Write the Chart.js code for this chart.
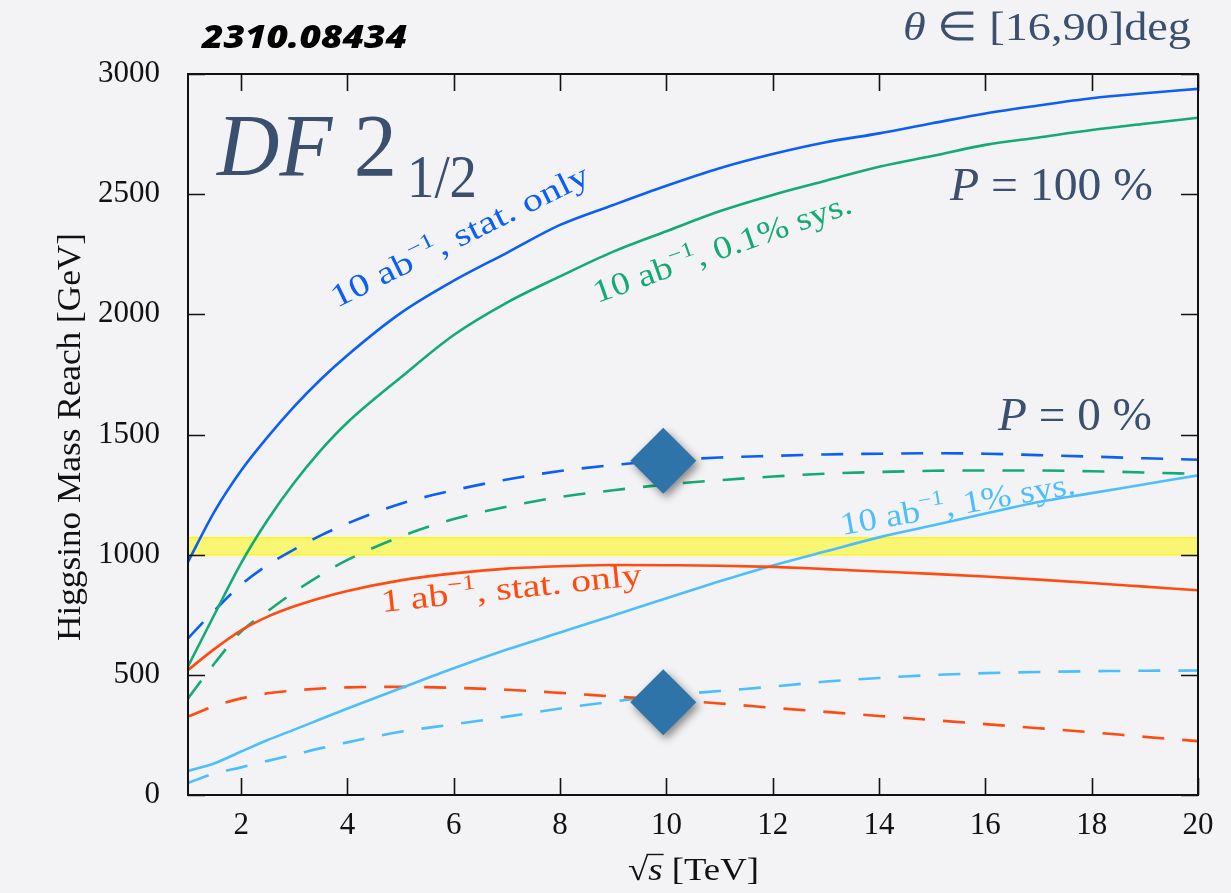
<!DOCTYPE html>
<html>
<head>
<meta charset="utf-8">
<script src="https://cdn.jsdelivr.net/npm/chart.js@4.4.1/dist/chart.umd.min.js"></script>
<style>
  html, body { margin: 0; padding: 0; background: #f3f3f5; }
  canvas { display: block; }
</style>
</head>
<body>
<canvas id="reach" width="1231" height="893"></canvas>
<script>
// Collider energy grid (TeV) shared by every curve
const sqrtS = [1, 1.5, 2, 2.5, 3, 3.5, 4, 5, 6, 7, 8, 9, 10, 11, 12, 13, 14, 15, 16, 17, 18, 19, 20];

// Higgsino mass reach (GeV), polarisation P = 100 % (solid)
const statOnly10_P100 = [970, 1180, 1350, 1490, 1617, 1730, 1830, 2005, 2140, 2256, 2372, 2455, 2535, 2608, 2667, 2716, 2753, 2795, 2836, 2869, 2899, 2920, 2938];
const sys01_10_P100   = [535, 752, 965, 1145, 1300, 1435, 1550, 1737, 1914, 2049, 2158, 2261, 2346, 2429, 2497, 2556, 2614, 2659, 2705, 2736, 2767, 2793, 2818];
const statOnly1_P100  = [520, 608, 685, 742, 785, 820, 849, 893, 922, 942, 952, 957, 956, 954, 949, 940, 930, 920, 909, 896, 882, 867, 852];
const sys1_10_P100    = [100, 132, 181, 229, 272, 316, 360, 444, 527, 605, 676, 747, 819, 889, 955, 1014, 1072, 1121, 1171, 1219, 1256, 1293, 1330];

// Higgsino mass reach (GeV), polarisation P = 0 % (dashed)
const statOnly10_P0 = [652, 768, 875, 957, 1022, 1080, 1130, 1212, 1268, 1313, 1348, 1373, 1392, 1404, 1411, 1417, 1420, 1422, 1420, 1414, 1408, 1401, 1395];
const sys01_10_P0   = [402, 548, 680, 765, 845, 916, 978, 1075, 1148, 1200, 1240, 1268, 1292, 1310, 1325, 1337, 1344, 1349, 1350, 1350, 1347, 1342, 1336];
const statOnly1_P0  = [326, 370, 402, 423, 435, 443, 448, 450, 446, 438, 425, 410, 396, 381, 363, 346, 329, 312, 295, 278, 261, 242, 224];
const sys1_10_P0    = [50, 90, 115, 142, 168, 195, 219, 263, 294, 326, 360, 389, 414, 433, 451, 472, 487, 499, 507, 512, 515, 517, 518];

// Thermal higgsino mass band (GeV)
const bandLow = 1000;
const bandHigh = 1070;

// Highlighted 10 TeV benchmark points
const benchX = [9.94, 9.94];
const benchY = [1391, 386];

// Axis ticks
const xTickValues = [2, 4, 6, 8, 10, 12, 14, 16, 18, 20];
const yTickValues = [0, 500, 1000, 1500, 2000, 2500, 3000];

const BLUE = '#0b5ef6';
const GREEN = '#14aa74';
const RED = '#ff4b0f';
const SKY = '#4dbefc';
const SLATE = '#3b4f6e';
const SERIF = '"Liberation Serif", "Times New Roman", serif';

const pts = ys => sqrtS.map((x, i) => ({ x, y: ys[i] }));
const DASH = [22, 18];

function curve(values, color, dashed) {
  return {
    data: pts(values),
    borderColor: color,
    borderWidth: 2.6,
    borderDash: dashed ? DASH : [],
    pointRadius: 0,
    fill: false,
    cubicInterpolationMode: 'monotone',
    order: 1
  };
}

// Rich text helper: runs of text, optional italic / superscript, stretched to a width
function drawRuns(ctx, runs, x, y, o) {
  ctx.save();
  let total = 0;
  const m = runs.map(r => {
    const fs = o.size * (r.scale || 1);
    const font = (r.italic ? 'italic ' : '') + (o.weight || '') + ' ' + fs + 'px ' + (o.family || SERIF);
    ctx.font = font;
    const w = ctx.measureText(r.t).width;
    const start = total;
    total += w;
    return { r, font, w, start };
  });
  const sx = o.width ? o.width / total : 1;
  ctx.translate(x, y);
  ctx.rotate((o.angle || 0) * Math.PI / 180);
  ctx.scale(sx, 1);
  ctx.fillStyle = o.color;
  ctx.textAlign = 'left';
  ctx.textBaseline = 'alphabetic';
  m.forEach(it => {
    ctx.font = it.font;
    ctx.fillText(it.r.t, it.start, -(it.r.dy || 0) * o.size);
  });
  if (o.after) o.after(ctx, m);
  ctx.restore();
}

const abRuns = (lumi, tail) => [
  { t: lumi + ' ab' },
  { t: '\u22121', scale: 0.66, dy: 0.42 },
  { t: tail }
];

// Curve labels anchored in data space (baseline start), with slope and run length
const curveNotes = [
  { runs: abRuns('10', ', stat. only'), x: 3.80, y: 2026, angle: -26.3, width: 284, color: BLUE },
  { runs: abRuns('10', ', 0.1% sys.'), x: 8.70, y: 2047, angle: -19.5, width: 272, color: GREEN },
  { runs: abRuns('1', ', stat. only'), x: 4.65, y: 761, angle: -6.0, width: 262, color: RED },
  { runs: abRuns('10', ', 1% sys.'), x: 13.31, y: 1082, angle: -10.0, width: 238, color: SKY }
];

const framePlugin = {
  id: 'frameAndText',
  beforeDatasetDraw(chart, args) {
    if (chart.data.datasets[args.index].shadow) {
      const c = chart.ctx;
      c.save();
      c.shadowColor = 'rgba(0,0,0,0.45)';
      c.shadowBlur = 9;
      c.shadowOffsetX = 3;
      c.shadowOffsetY = 4;
    }
  },
  afterDatasetDraw(chart, args) {
    if (chart.data.datasets[args.index].shadow) chart.ctx.restore();
  },
  afterDraw(chart) {
    const ctx = chart.ctx;
    const a = chart.chartArea;
    const xs = chart.scales.x, ys = chart.scales.y;

    // inward ticks on all four sides
    ctx.save();
    ctx.strokeStyle = '#111';
    ctx.lineWidth = 1.6;
    const TL = 17;
    ctx.beginPath();
    xs.ticks.forEach(t => {
      const p = Math.round(xs.getPixelForValue(t.value)) + 0.5;
      ctx.moveTo(p, a.bottom); ctx.lineTo(p, a.bottom - TL);
      ctx.moveTo(p, a.top); ctx.lineTo(p, a.top + TL);
    });
    ys.ticks.forEach(t => {
      const p = Math.round(ys.getPixelForValue(t.value)) + 0.5;
      ctx.moveTo(a.left, p); ctx.lineTo(a.left + TL, p);
      ctx.moveTo(a.right, p); ctx.lineTo(a.right - TL, p);
    });
    ctx.stroke();
    ctx.lineWidth = 2;
    ctx.strokeRect(a.left, a.top, a.right - a.left, a.bottom - a.top);
    ctx.restore();

    // curve labels
    curveNotes.forEach(n => {
      drawRuns(ctx, n.runs, xs.getPixelForValue(n.x), ys.getPixelForValue(n.y),
        { size: 32, color: n.color, angle: n.angle, width: n.width });
    });

    // model name
    drawRuns(ctx, [{ t: 'DF', italic: true }, { t: ' 2' }], 217, 175,
      { size: 88, color: SLATE, width: 180 });
    drawRuns(ctx, [{ t: '1/2' }], 407, 197, { size: 62, color: SLATE, width: 70 });

    // polarisation tags
    drawRuns(ctx, [{ t: 'P', italic: true }, { t: ' = 100 %' }], 950, 200,
      { size: 46, color: SLATE, width: 203 });
    drawRuns(ctx, [{ t: 'P', italic: true }, { t: ' = 0 %' }], 998, 430,
      { size: 46, color: SLATE, width: 154 });

    // angular acceptance
    drawRuns(ctx, [{ t: '\u03B8', italic: true }, { t: ' \u2208 [16,90]deg' }], 903, 40,
      { size: 40, color: SLATE, width: 288 });

    // arXiv reference
    drawRuns(ctx, [{ t: '2310.08434', italic: true }], 202, 48,
      { size: 31, color: '#000', width: 205, weight: '800', family: '"Open Sans", "Lato", sans-serif' });

    // axis titles
    ctx.save();
    ctx.translate(80, 641);
    ctx.rotate(-Math.PI / 2);
    drawRuns(ctx, [{ t: 'Higgsino Mass Reach [GeV]' }], 0, 0, { size: 34, color: '#111', width: 408 });
    ctx.restore();

    drawRuns(ctx, [{ t: '\u221A' }, { t: 's', italic: true }, { t: ' [TeV]' }], 628, 880,
      { size: 32, color: '#111', width: 131,
        after(c, m) {
          c.strokeStyle = '#111';
          c.lineWidth = 1.4;
          c.beginPath();
          c.moveTo(m[0].start + m[0].w * 0.92, -25.5);
          c.lineTo(m[1].start + m[1].w + 1, -25.5);
          c.stroke();
        } });
  }
};

new Chart(document.getElementById('reach'), {
  type: 'line',
  data: {
    datasets: [
      {
        label: 'benchmarks',
        data: benchX.map((x, i) => ({ x, y: benchY[i] })),
        showLine: false,
        pointStyle: 'rectRot',
        pointRadius: 33,
        pointHoverRadius: 33,
        pointBackgroundColor: '#2f74a8',
        pointBorderWidth: 0,
        shadow: true,
        order: 0
      },
      curve(statOnly10_P100, BLUE, false),
      curve(sys01_10_P100, GREEN, false),
      curve(statOnly1_P100, RED, false),
      curve(sys1_10_P100, SKY, false),
      curve(statOnly10_P0, BLUE, true),
      curve(sys01_10_P0, GREEN, true),
      curve(statOnly1_P0, RED, true),
      curve(sys1_10_P0, SKY, true),
      {
        label: 'band',
        data: [{ x: 1, y: bandHigh }, { x: 20, y: bandHigh }],
        borderColor: 'rgba(255,246,0,0.9)',
        borderWidth: 1.5,
        backgroundColor: 'rgba(255,250,0,0.52)',
        fill: { value: bandLow },
        pointRadius: 0,
        order: 2
      },
      {
        label: 'band-edge',
        data: [{ x: 1, y: bandLow }, { x: 20, y: bandLow }],
        borderColor: 'rgba(255,246,0,0.9)',
        borderWidth: 1.5,
        pointRadius: 0,
        fill: false,
        order: 2
      }
    ]
  },
  options: {
    responsive: false,
    devicePixelRatio: 1,
    animation: false,
    events: [],
    layout: { padding: { top: 74, right: 32, left: 0, bottom: 0 } },
    plugins: { legend: { display: false }, tooltip: { enabled: false } },
    scales: {
      x: {
        type: 'linear',
        min: 1,
        max: 20,
        ticks: {
          stepSize: 2,
          padding: 12,
          color: '#111',
          font: { family: SERIF, size: 31 },
          callback: v => String(v)
        },
        afterBuildTicks(s) { s.ticks = xTickValues.map(v => ({ value: v })); },
        afterFit(s) { s.height = 98; },
        grid: { display: false, drawTicks: false },
        border: { display: false }
      },
      y: {
        type: 'linear',
        min: 0,
        max: 3000,
        ticks: {
          stepSize: 500,
          padding: 28,
          color: '#111',
          font: { family: SERIF, size: 31 },
          callback: v => String(v)
        },
        afterBuildTicks(s) { s.ticks = yTickValues.map(v => ({ value: v })); },
        afterFit(s) { s.width = 188; },
        grid: { display: false, drawTicks: false },
        border: { display: false }
      }
    }
  },
  plugins: [framePlugin]
});
</script>
</body>
</html>
